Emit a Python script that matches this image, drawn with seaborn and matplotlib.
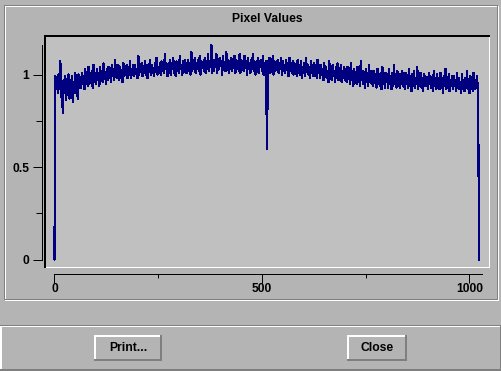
import numpy as np
import pandas as pd
import matplotlib
matplotlib.use("Agg")
import matplotlib.pyplot as plt
from matplotlib.patches import Rectangle
from matplotlib.ticker import FixedLocator, MultipleLocator, NullFormatter
import seaborn as sns

# ---------------- data ----------------
title = "Pixel Values"
x_major = [0, 500, 1000]
x_major_labels = ["0", "500", "1000"]
y_major = [0, 0.5, 1]
y_major_labels = ["0", "0.5", "1"]
button_labels = ["Print...", "Close"]

sample_index = list(range(0, 1024, 2)) + [1023]
pixel_values = [
    0.00, 0.99, 0.93, 0.98, 0.90, 1.00, 0.92, 1.07, 0.88, 0.96, 0.79, 0.97, 0.90, 0.99, 0.86, 0.95,
    0.91, 1.00, 0.87, 0.97, 0.92, 0.99, 0.85, 0.96, 0.90, 1.01, 0.92, 0.98, 0.87, 1.00, 0.93, 0.98,
    0.93, 1.01, 0.95, 0.99, 0.92, 1.03, 0.96, 1.00, 0.94, 1.04, 0.95, 1.01, 0.97, 1.02, 0.93, 1.05,
    0.96, 1.00, 0.95, 1.03, 0.97, 1.01, 0.94, 1.04, 0.97, 1.02, 0.96, 1.06, 0.98, 1.01, 0.95, 1.03,
    0.97, 1.04, 0.99, 1.02, 0.96, 1.05, 0.99, 1.03, 0.97, 1.08, 1.00, 1.03, 0.98, 1.05, 0.97, 1.04,
    1.00, 1.02, 0.96, 1.06, 0.99, 1.03, 1.01, 1.05, 0.98, 1.04, 1.00, 1.07, 0.98, 1.03, 1.00, 1.05,
    0.99, 1.05, 1.01, 1.03, 0.98, 1.10, 1.00, 1.04, 1.02, 1.06, 0.99, 1.04, 1.01, 1.07, 1.00, 1.05,
    0.98, 1.04, 1.02, 1.08, 1.00, 1.05, 1.01, 1.03, 0.99, 1.06, 1.02, 1.09, 1.00, 1.04, 1.01, 1.06,
    1.00, 1.07, 1.02, 1.05, 1.01, 1.11, 1.03, 1.06, 0.99, 1.05, 1.02, 1.08, 1.00, 1.06, 1.03, 1.09,
    1.01, 1.05, 0.99, 1.07, 1.02, 1.06, 1.01, 1.10, 1.03, 1.05, 1.00, 1.07, 1.02, 1.08, 1.01, 1.06,
    1.01, 1.08, 1.03, 1.06, 1.00, 1.12, 1.02, 1.07, 1.04, 1.09, 1.01, 1.06, 1.03, 1.08, 1.02, 1.10,
    1.00, 1.07, 1.04, 1.06, 1.02, 1.09, 1.01, 1.07, 1.03, 1.11, 1.02, 1.06, 1.04, 1.157, 1.01, 1.08,
    1.02, 1.08, 1.04, 1.11, 1.01, 1.07, 1.03, 1.09, 1.05, 1.07, 1.00, 1.10, 1.03, 1.06, 1.02, 1.12,
    1.04, 1.08, 1.01, 1.07, 1.03, 1.09, 1.02, 1.06, 1.04, 1.10, 1.01, 1.08, 1.03, 1.07, 1.02, 1.11,
    1.01, 1.08, 1.03, 1.06, 1.02, 1.10, 1.04, 1.07, 1.00, 1.09, 1.03, 1.06, 1.01, 1.08, 1.04, 1.11,
    1.02, 1.07, 1.00, 1.06, 1.03, 1.09, 1.01, 1.07, 1.04, 1.08, 1.02, 1.10, 1.00, 1.06, 1.03, 1.07,
    0.60, 1.07, 1.02, 1.09, 1.01, 1.06, 1.03, 1.10, 1.00, 1.07, 1.02, 1.05, 1.04, 1.08, 1.01, 1.06,
    1.03, 1.09, 1.00, 1.07, 1.02, 1.05, 1.01, 1.08, 1.03, 1.06, 0.99, 1.09, 1.02, 1.06, 1.01, 1.07,
    1.00, 1.06, 1.02, 1.04, 0.99, 1.08, 1.01, 1.05, 1.00, 1.07, 0.98, 1.04, 1.01, 1.06, 0.99, 1.09,
    1.02, 1.05, 1.00, 1.04, 0.98, 1.07, 1.01, 1.05, 0.99, 1.06, 1.00, 1.04, 0.98, 1.08, 1.01, 1.05,
    0.98, 1.05, 1.00, 1.03, 0.97, 1.06, 0.99, 1.04, 0.98, 1.02, 0.96, 1.07, 0.99, 1.03, 0.97, 1.05,
    1.00, 1.02, 0.96, 1.04, 0.98, 1.06, 0.97, 1.03, 0.99, 1.05, 0.96, 1.02, 0.98, 1.04, 0.97, 1.03,
    0.96, 1.04, 0.98, 1.01, 0.95, 1.06, 0.97, 1.02, 0.94, 1.03, 0.97, 1.00, 0.95, 1.04, 0.96, 1.01,
    0.94, 1.07, 0.97, 1.02, 0.95, 1.00, 0.93, 1.03, 0.96, 1.01, 0.94, 1.05, 0.96, 1.00, 0.95, 1.02,
    0.94, 1.02, 0.96, 1.00, 0.93, 1.03, 0.95, 0.99, 0.94, 1.01, 0.92, 1.04, 0.95, 0.99, 0.93, 1.01,
    0.96, 1.00, 0.93, 1.03, 0.95, 0.98, 0.92, 1.01, 0.94, 1.05, 0.95, 0.99, 0.93, 1.02, 0.94, 1.00,
    0.93, 1.00, 0.95, 1.02, 0.94, 0.99, 0.92, 1.01, 0.95, 0.98, 0.93, 1.03, 0.94, 0.99, 0.91, 1.00,
    0.94, 1.02, 0.93, 0.98, 0.95, 1.04, 0.92, 0.99, 0.94, 1.01, 0.93, 0.98, 0.91, 1.00, 0.94, 0.99,
    0.94, 0.98, 0.92, 1.01, 0.95, 0.99, 0.93, 0.97, 0.91, 1.02, 0.94, 0.98, 0.92, 1.00, 0.94, 0.97,
    0.92, 1.01, 0.93, 0.98, 0.90, 0.99, 0.94, 1.03, 0.92, 0.98, 0.93, 1.00, 0.91, 0.97, 0.94, 0.99,
    0.92, 0.99, 0.94, 0.97, 0.91, 1.01, 0.93, 0.98, 0.92, 0.96, 0.90, 1.00, 0.93, 0.97, 0.91, 0.98,
    0.93, 1.02, 0.92, 0.97, 0.90, 0.99, 0.93, 0.96, 0.91, 1.01, 0.92, 0.97, 0.93, 0.99, 0.92, 0.47,
    0.00,
]

df = pd.DataFrame({"index": sample_index, "value": pixel_values})

# ---------------- style ----------------
sns.set_style("white")
plt.rcParams["font.family"] = ["Liberation Sans", "DejaVu Sans"]
plt.rcParams["font.weight"] = "bold"

BG = "#b4b4b4"
PLOT_BG = "#c0c0c0"
DARK = "#7f7f7f"
WHITE = "#ffffff"
NAVY = "#000080"
PT = 72.0 / 100.0  # one pixel in points

W, H = 502, 371
fig = plt.figure(figsize=(W / 100, H / 100), dpi=100, facecolor=BG)

bg = fig.add_axes([0, 0, 1, 1])
bg.set_xlim(0, W)
bg.set_ylim(H, 0)
bg.axis("off")
bg.set_zorder(0)


def px_rect(x, y, w, h, color):
    bg.add_patch(Rectangle((x, y), w, h, facecolor=color, edgecolor="none",
                           antialiased=False))


# etched frame around plot region
px_rect(5, 6, 494, 1, WHITE)
px_rect(5, 6, 1, 295, WHITE)
px_rect(498, 6, 1, 295, WHITE)
px_rect(5, 300, 494, 1, WHITE)
px_rect(4, 5, 494, 1, DARK)
px_rect(4, 5, 1, 295, DARK)
px_rect(497, 5, 1, 295, DARK)
px_rect(4, 299, 494, 1, DARK)

# sunken plot area border
px_rect(44, 35, 446, 2, "black")
px_rect(44, 35, 2, 233, "black")
px_rect(46, 267, 444, 1, WHITE)
px_rect(489, 37, 1, 231, WHITE)

# bottom button panel
px_rect(0, 325, W, 1, DARK)
px_rect(0, 326, W, 1, WHITE)
px_rect(0, 326, 2, 45, WHITE)
px_rect(0, 369, W, 2, DARK)
px_rect(500, 326, 2, 45, DARK)


def button(x0, x1, y0, y1, label):
    px_rect(x0, y0, x1 - x0 + 1, 2, WHITE)
    px_rect(x0, y0, 2, y1 - y0 + 1, WHITE)
    px_rect(x0, y1 - 1, x1 - x0 + 1, 2, DARK)
    px_rect(x1 - 1, y0, 2, y1 - y0 + 1, DARK)
    bg.text((x0 + x1 + 1) / 2, (y0 + y1 + 1) / 2, label, ha="center", va="center",
            fontsize=8.7, fontweight="bold", color="black")


button(94, 161, 335, 360, button_labels[0])
button(347, 406, 335, 360, button_labels[1])

bg.text(267, 19.5, title, ha="center", va="center", fontsize=8.7,
        fontweight="bold", color="black")

# ---------------- plot axes ----------------
ax = fig.add_axes([46 / W, (H - 267) / H, (489 - 46) / W, (267 - 37) / H])
ax.set_zorder(1)
ax.set_facecolor(PLOT_BG)

sns.lineplot(data=df, x="index", y="value", ax=ax, color=NAVY, linewidth=1.3 * PT,
             estimator=None, sort=False, legend=False, antialiased=False)

ax.set_xlim((46 - 54.5) / 0.415, (489 - 54.5) / 0.415)
ax.set_ylim((259.5 - 267) / 185.0, (259.5 - 37) / 185.0)
ax.set_xlabel("")
ax.set_ylabel("")

for s in ["top", "right"]:
    ax.spines[s].set_visible(False)
ax.spines["left"].set_position(("outward", 3.5 * PT))
ax.spines["bottom"].set_position(("outward", 6.5 * PT))
ax.spines["left"].set_bounds(0, 1.157)
ax.spines["bottom"].set_bounds(0, 1031)
for s in ["left", "bottom"]:
    ax.spines[s].set_color("black")
    ax.spines[s].set_linewidth(PT)
    ax.spines[s].set_antialiased(False)

ax.xaxis.set_major_locator(FixedLocator(x_major))
ax.set_xticklabels(x_major_labels)
ax.yaxis.set_major_locator(FixedLocator(y_major))
ax.set_yticklabels(y_major_labels)
ax.xaxis.set_minor_locator(MultipleLocator(250))
ax.yaxis.set_minor_locator(MultipleLocator(0.25))
ax.xaxis.set_minor_formatter(NullFormatter())
ax.yaxis.set_minor_formatter(NullFormatter())

ax.tick_params(axis="both", which="both", direction="out", color="black",
               width=PT, labelsize=8.7, labelcolor="black",
               bottom=True, left=True, top=False, right=False)
ax.tick_params(axis="y", which="major", length=9 * PT, pad=4 * PT)
ax.tick_params(axis="y", which="minor", length=6 * PT)
ax.tick_params(axis="x", which="major", length=9 * PT, pad=0)
ax.tick_params(axis="x", which="minor", length=4 * PT)
for lab in ax.get_xticklabels() + ax.get_yticklabels():
    lab.set_fontweight("bold")
ax.grid(False)

fig.savefig("out.png", dpi=100, facecolor=BG)
